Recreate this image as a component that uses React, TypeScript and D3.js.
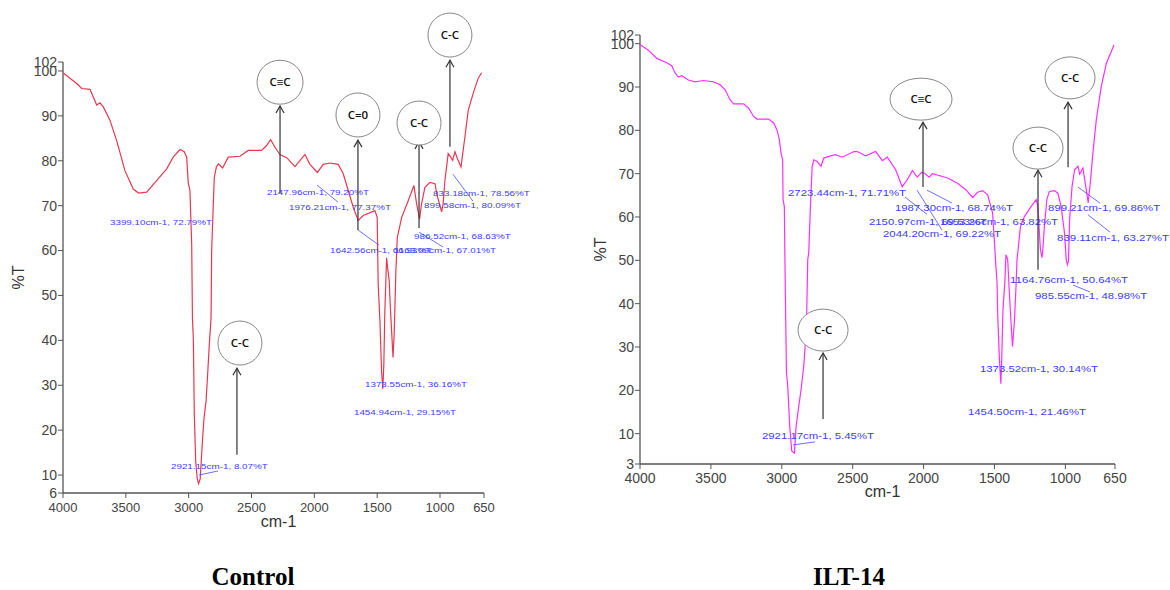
import * as d3 from "d3";
import { useMemo } from "react";

// wavenumber axis ticks shared by both spectra
const xTicks = [4000, 3500, 3000, 2500, 2000, 1500, 1000, 650];
const controlYTicks = [6, 10, 20, 30, 40, 50, 60, 70, 80, 90, 100, 102];
const iltYTicks = [3, 10, 20, 30, 40, 50, 60, 70, 80, 90, 100, 102];

// [wavenumber cm-1, %T]
const controlSpectrum: [number, number][] = [
  [4000, 99.6], [3950, 98.5], [3891, 97.2], [3851, 96.1], [3785, 95.9], [3759, 94.2],
  [3732, 92.4], [3706, 92.9], [3679, 92], [3626, 89], [3573, 84.5], [3507, 77.8],
  [3441, 73.7], [3399, 72.8], [3334, 73], [3255, 75.6], [3175, 78.2], [3123, 80.8],
  [3069, 82.5], [3035, 82], [3016, 80.8], [3003, 75], [2990, 73.4], [2976, 61.5],
  [2970, 45], [2963, 40.5], [2955, 23.4], [2944, 13], [2932, 9.2], [2921, 8.1],
  [2908, 9.2], [2894, 16], [2878, 22.7], [2862, 26.4], [2849, 32.4], [2836, 39],
  [2822, 45], [2817, 60], [2804, 70.4], [2796, 76.3], [2780, 78.6], [2764, 79.3],
  [2751, 79], [2730, 78.4], [2685, 80.8], [2592, 81], [2526, 82.3], [2420, 82.3],
  [2380, 83.4], [2348, 84.7], [2313, 83], [2274, 81.4], [2220, 80.7], [2154, 78.7],
  [2110, 80.2], [2075, 81.4], [2035, 79.2], [1976, 77.4], [1929, 79.2], [1876, 79.5],
  [1810, 79.2], [1770, 77.1], [1738, 74.1], [1690, 69.6], [1651, 66.7], [1611, 67.8],
  [1518, 68.9], [1500, 67.4], [1492, 52.5], [1478, 44.3], [1465, 33.1], [1455, 29.2],
  [1447, 34.7], [1439, 46.5], [1431, 53.2], [1425, 58.4], [1417, 56.2], [1404, 53.2],
  [1399, 49.5], [1385, 42], [1374, 36.2], [1364, 42], [1359, 47.3], [1351, 55.5],
  [1340, 62.9], [1305, 67.4], [1253, 71.1], [1208, 74.5], [1186, 70.4], [1163, 67],
  [1147, 70.4], [1120, 74.1], [1080, 75.2], [1040, 74.9], [1022, 72.2], [987, 68.6],
  [975, 70.4], [961, 75.6], [935, 81.6], [915, 80.8], [900, 80.1], [881, 82],
  [862, 80.5], [833, 78.6], [823, 80.8], [802, 85.3], [775, 91.3], [736, 95],
  [696, 98.4], [669, 99.6],
];

// [wavenumber cm-1, %T]
const iltSpectrum: [number, number][] = [
  [4000, 99.8], [3988, 99.5], [3941, 98.5], [3882, 96.6], [3811, 95.6], [3776, 94.9],
  [3752, 93.2], [3729, 92.3], [3705, 92.6], [3659, 91.6], [3611, 91.2], [3552, 91.5],
  [3482, 91.2], [3434, 90.5], [3399, 89.3], [3364, 87], [3340, 86.1], [3270, 86.1],
  [3234, 85.1], [3199, 83.2], [3175, 82.6], [3093, 82.6], [3057, 81.7], [3034, 80.1],
  [3017, 77.8], [3005, 74.7], [2994, 73.2], [2991, 64], [2982, 62.4], [2978, 50],
  [2967, 24.1], [2958, 21], [2944, 11.7], [2930, 6], [2911, 5.5], [2899, 11.7],
  [2880, 16.4], [2864, 20.2], [2845, 25.6], [2826, 34.8], [2817, 50.2], [2810, 51.7],
  [2798, 62.4], [2786, 71.6], [2774, 73.2], [2750, 72.8], [2723, 71.7], [2704, 73.6],
  [2656, 74.1], [2621, 74.4], [2574, 73.8], [2491, 75.1], [2468, 75.1], [2409, 74.1],
  [2338, 75.1], [2291, 73], [2256, 73.8], [2197, 70.9], [2151, 67], [2115, 68.6],
  [2079, 70.7], [2044, 69.2], [2015, 70.3], [1992, 70.1], [1961, 69.2], [1937, 70],
  [1831, 69], [1760, 67.8], [1702, 66.3], [1654, 64.5], [1619, 65.7], [1583, 66.1],
  [1548, 65.1], [1513, 60.9], [1489, 48.2], [1482, 45], [1477, 37.1], [1465, 27.1],
  [1455, 21.5], [1449, 27.1], [1440, 38.6], [1426, 45.6], [1419, 51.3], [1407, 50.2],
  [1395, 42.5], [1383, 35.6], [1373, 30.1], [1360, 35.6], [1348, 44], [1341, 50.2],
  [1336, 51.7], [1317, 57.8], [1289, 60.1], [1242, 62.4], [1206, 64], [1194, 62.4],
  [1176, 52.5], [1165, 50.6], [1159, 52.5], [1148, 57.8], [1131, 64], [1113, 65.9],
  [1077, 66.1], [1053, 65.5], [1030, 62.4], [1006, 56.3], [994, 50.2], [986, 49],
  [978, 49.8], [970, 59.4], [953, 67], [935, 70.9], [911, 71.7], [899, 69.9],
  [876, 71.3], [860, 67.8], [839, 63.3], [822, 68.6], [806, 74.7], [782, 82.4],
  [747, 90.1], [711, 95.5], [676, 98.2], [657, 99.7],
];

// peak readouts: text plus where the text sits (wavenumber, %T)
const controlPeakLabels = [
  { text: "3399.10cm-1, 72.79%T", wn: 3626, t: 66.4 },
  { text: "2147.96cm-1, 79.20%T", wn: 2377, t: 73.0 },
  { text: "1976.21cm-1, 77.37%T", wn: 2202, t: 69.7 },
  { text: "1642.56cm-1, 66.93%T", wn: 1875, t: 60.1 },
  { text: "1163.09cm-1, 67.01%T", wn: 1366, t: 60.1 },
  { text: "986.52cm-1, 68.63%T", wn: 1207, t: 63.2 },
  { text: "833.18cm-1, 78.56%T", wn: 1056, t: 72.8 },
  { text: "899.58cm-1, 80.09%T", wn: 1127, t: 70.1 },
  { text: "1373.55cm-1, 36.16%T", wn: 1597, t: 30.3 },
  { text: "1454.94cm-1, 29.15%T", wn: 1685, t: 24.0 },
  { text: "2921.15cm-1, 8.07%T", wn: 3141, t: 12.0 },
];
const controlLeaders: [number, number, number, number][] = [
  [1979, 74.6, 1812, 70.8],
  [1653, 64.6, 1486, 61.2],
  [1167, 64.1, 976, 60.8],
  [897, 77.0, 738, 71.0],
  [2918, 10.0, 2767, 10.9],
];
const controlBubbles = [
  { label: "C≡C", wn: 2273, t: 97.5, from: 72.8, to: 92.2 },
  { label: "C=0", wn: 1653, t: 90.2, from: 64.6, to: 84.6 },
  { label: "C-C", wn: 1167, t: 88.4, from: 65.0, to: 84.2 },
  { label: "C-C", wn: 921, t: 108.0, from: 83.1, to: 102.4 },
  { label: "C-C", wn: 2592, t: 39.4, from: 14.5, to: 33.8, arrowWn: 2616 },
];

const iltPeakLabels = [
  { text: "2723.44cm-1, 71.71%T", wn: 2956, t: 65.5 },
  { text: "1987.30cm-1, 68.74%T", wn: 2202, t: 62.1 },
  { text: "2150.97cm-1, 69.53%T", wn: 2385, t: 58.8 },
  { text: "1653.26cm-1, 63.82%T", wn: 1884, t: 58.8 },
  { text: "2044.20cm-1, 69.22%T", wn: 2286, t: 56.1 },
  { text: "899.21cm-1, 69.86%T", wn: 1122, t: 62.1 },
  { text: "839.11cm-1, 63.27%T", wn: 1059, t: 55.2 },
  { text: "1164.76cm-1, 50.64%T", wn: 1390, t: 45.5 },
  { text: "985.55cm-1, 48.98%T", wn: 1214, t: 41.8 },
  { text: "1373.52cm-1, 30.14%T", wn: 1602, t: 24.9 },
  { text: "1454.50cm-1, 21.46%T", wn: 1687, t: 15.0 },
  { text: "2921.17cm-1, 5.45%T", wn: 3140, t: 9.5 },
];
const iltLeaders: [number, number, number, number][] = [
  [2131, 64.6, 1976, 60.6],
  [2046, 66.2, 1870, 57.0],
  [1976, 66.2, 1799, 63.2],
  [911, 66.9, 756, 63.2],
  [840, 60.5, 685, 56.5],
  [946, 44.3, 826, 42.7],
  [2921, 7.4, 2766, 8.1],
];
const iltBubbles = [
  { label: "C≡C", wn: 2018, t: 87.2, from: 66.9, to: 81.9, arrowWn: 2004 },
  { label: "C-C", wn: 1193, t: 75.9, from: 47.8, to: 70.8 },
  { label: "C-C", wn: 967, t: 92.1, from: 71.5, to: 86.5, arrowWn: 981 },
  { label: "C-C", wn: 2709, t: 33.9, from: 13.4, to: 28.6 },
];

const Panel = ({
  data, color, left, right, top, bottom, yMin, yTicks, labels, leaders, bubbles,
  labelSize, charW, bubbleRx, bubbleRy, wideRx, xFont, xLabelY, title, titleX, yTitleX,
}) => {
  const x = useMemo(() => d3.scaleLinear().domain([4000, 650]).range([left, right]), [left, right]);
  const y = useMemo(() => d3.scaleLinear().domain([yMin, 102]).range([bottom, top]), [yMin, bottom, top]);
  const path = d3.line<[number, number]>().x((d) => x(d[0])).y((d) => y(d[1]))(data);
  const axisColor = "#555";
  const midX = (left + right) / 2;

  return (
    <g>
      <line x1={left} x2={left} y1={top} y2={bottom} stroke={axisColor} strokeWidth={1.3} />
      <line x1={left} x2={right} y1={bottom} y2={bottom} stroke={axisColor} strokeWidth={1.3} />
      {yTicks.map((t) => (
        <g key={t}>
          <line x1={left - 5} x2={left} y1={y(t)} y2={y(t)} stroke={axisColor} />
          <text x={left - 6} y={y(t)} dy="0.35em" textAnchor="end" fontSize={14} fill="#444"
            fontFamily="'Liberation Sans', Arial, sans-serif">{t}</text>
        </g>
      ))}
      {xTicks.map((t) => (
        <g key={t}>
          <line x1={x(t)} x2={x(t)} y1={bottom} y2={bottom + 5} stroke={axisColor} />
          <text x={x(t)} y={bottom + 19} textAnchor="middle" fontSize={xFont} fill="#444"
            fontFamily="'Liberation Sans', Arial, sans-serif">{t}</text>
        </g>
      ))}
      <text x={midX + 5} y={bottom + xLabelY} textAnchor="middle" fontSize={16} fill="#333"
        fontFamily="'Liberation Sans', Arial, sans-serif">cm-1</text>
      <text transform={`translate(${yTitleX},${(top + bottom) / 2}) rotate(-90)`} textAnchor="middle"
        fontSize={16} fill="#333" fontFamily="'Liberation Sans', Arial, sans-serif">%T</text>

      <path d={path} fill="none" stroke={color} strokeWidth={1.2} />

      {leaders.map((l, i) => (
        <line key={i} x1={x(l[0])} y1={y(l[1])} x2={x(l[2])} y2={y(l[3])} stroke="#4a4aff" strokeWidth={0.8} />
      ))}
      {labels.map((l, i) => (
        <text key={i} x={x(l.wn)} y={y(l.t)} dy="0.35em" fontSize={labelSize} fill="#3c3cff"
          textLength={l.text.length * charW} lengthAdjust="spacingAndGlyphs"
          fontFamily="'Liberation Sans', Arial, sans-serif">{l.text}</text>
      ))}

      {bubbles.map((b, i) => {
        const ax = x(b.arrowWn ?? b.wn);
        const y1 = y(b.from);
        const y2 = y(b.to);
        const rx = b.label === "C≡C" ? wideRx : bubbleRx;
        return (
          <g key={i}>
            <line x1={ax} x2={ax} y1={y1} y2={y2} stroke="#333" strokeWidth={1.2} />
            <path d={`M${ax - 4},${y2 + 7}L${ax},${y2}L${ax + 4},${y2 + 7}`} fill="none" stroke="#333" strokeWidth={1.2} />
            <ellipse cx={x(b.wn)} cy={y(b.t)} rx={rx} ry={bubbleRy} fill="white" stroke="#888" strokeWidth={1} />
            <text x={x(b.wn)} y={y(b.t)} dy="0.35em" textAnchor="middle" fontSize={11.5} fontWeight={600} fill="#111"
              fontFamily="'Open Sans', 'Liberation Sans', sans-serif">{b.label}</text>
          </g>
        );
      })}

      <text x={titleX} y={585} textAnchor="middle" fontSize={25} fontWeight="bold" fill="#000"
        fontFamily="'Liberation Serif', 'Times New Roman', serif">{title}</text>
    </g>
  );
};

export default function App() {
  return (
    <svg width={1170} height={590} style={{ position: "absolute", left: 0, top: 0, background: "#fff" }}>
      <rect width={1170} height={590} fill="#fff" />
      <Panel data={controlSpectrum} color="#e8384f" left={63} right={484} top={62} bottom={493}
        yMin={6} yTicks={controlYTicks} labels={controlPeakLabels} leaders={controlLeaders}
        bubbles={controlBubbles} labelSize={8} charW={5.1} bubbleRx={22} bubbleRy={22} wideRx={23}
        xFont={13} xLabelY={34} title="Control" titleX={253} yTitleX={24} />
      <Panel data={iltSpectrum} color="#ff30ff" left={640} right={1115} top={35} bottom={464}
        yMin={3} yTicks={iltYTicks} labels={iltPeakLabels} leaders={iltLeaders}
        bubbles={iltBubbles} labelSize={9} charW={5.9} bubbleRx={25} bubbleRy={21} wideRx={31}
        xFont={14} xLabelY={33} title="ILT-14" titleX={849} yTitleX={606} />
    </svg>
  );
}
